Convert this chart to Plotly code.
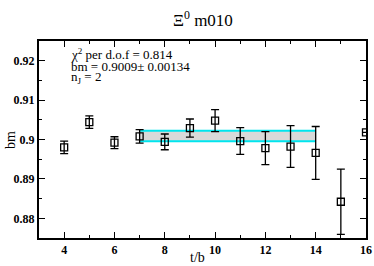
import plotly.graph_objects as go

t = [4, 5, 6, 7, 8, 9, 10, 11, 12, 13, 14, 15, 16]
bm = [0.8980, 0.9044, 0.8992, 0.9008, 0.8994, 0.9029, 0.9048, 0.8996, 0.8978, 0.8982, 0.8966, 0.8842, 0.9018]
err = [0.0016, 0.0016, 0.0015, 0.0017, 0.0020, 0.0023, 0.0028, 0.0034, 0.0042, 0.0053, 0.0067, 0.0083, 0.0]

fit_t = [7, 14]
fit_val = 0.9009
fit_err = 0.00134

serif = "Liberation Serif"
W, H = 374, 266
L, T = 39, 41
pw, ph = 327, 197
R, B = W - L - pw, H - T - ph

def px(xp):
    return (xp - L) / pw

def py(yp):
    return (T + ph - yp) / ph

fig = go.Figure()
fig.add_trace(go.Scatter(x=fit_t, y=[fit_val - fit_err] * 2, mode="lines",
                         line=dict(color="#00e5ee", width=2), showlegend=False))
fig.add_trace(go.Scatter(x=fit_t, y=[fit_val + fit_err] * 2, mode="lines",
                         line=dict(color="#00e5ee", width=2), fill="tonexty",
                         fillcolor="#d9d9d9", showlegend=False))
fig.add_trace(go.Scatter(x=t, y=bm, mode="markers",
                         marker=dict(symbol="square-open", size=7, color="black", line=dict(width=1.3)),
                         error_y=dict(type="data", array=err, color="black", thickness=1.3, width=4),
                         showlegend=False))

fig.update_layout(
    width=W, height=H,
    margin=dict(l=L, r=R, t=T, b=B),
    paper_bgcolor="white", plot_bgcolor="white",
    font=dict(family=serif, color="black"),
)
common = dict(ticks="inside", ticklen=6, tickwidth=1, tickcolor="black", showline=True,
              linecolor="black", linewidth=2, mirror="ticks", showgrid=False, zeroline=False,
              automargin=False, tickfont=dict(family=serif, size=12, weight="bold"))
fig.update_xaxes(range=[3, 16], tickvals=[4, 6, 8, 10, 12, 14, 16],
                 minor=dict(dtick=1, tick0=0, ticks="inside", ticklen=3, tickcolor="black"),
                 **common)
fig.update_yaxes(range=[0.875, 0.925], tickvals=[0.88, 0.89, 0.9, 0.91, 0.92],
                 ticktext=["0.88", "0.89", "0.9", "0.91", "0.92"],
                 minor=dict(dtick=0.005, tick0=0.875, ticks="inside", ticklen=3, tickcolor="black"),
                 **common)

# title and axis titles
fig.add_annotation(x=px(203), y=py(19), xref="paper", yref="paper", text="Ξ<sup>0</sup> m010",
                   showarrow=False, xanchor="center", yanchor="middle",
                   font=dict(family=serif, size=17, color="black"))
fig.add_annotation(x=px(197), y=py(257), xref="paper", yref="paper", text="t/b",
                   showarrow=False, xanchor="center", yanchor="middle",
                   font=dict(family=serif, size=14, color="black"))
fig.add_annotation(x=px(10), y=py(140), xref="paper", yref="paper", text="bm", textangle=-90,
                   showarrow=False, xanchor="center", yanchor="middle",
                   font=dict(family=serif, size=14, color="black"))

texts = ["χ<sup>2</sup> per d.o.f = 0.814", "bm = 0.9009± 0.00134", "n<sub>J</sub> = 2"]
ys = [54, 66, 77]
for s, yp in zip(texts, ys):
    fig.add_annotation(x=px(69), y=py(yp), xref="paper", yref="paper", text=s, showarrow=False,
                       xanchor="left", yanchor="middle", font=dict(family=serif, size=13, color="black"))

fig.write_html("out.html", config={"displayModeBar": False},
               post_script="document.body.style.margin='0';")
